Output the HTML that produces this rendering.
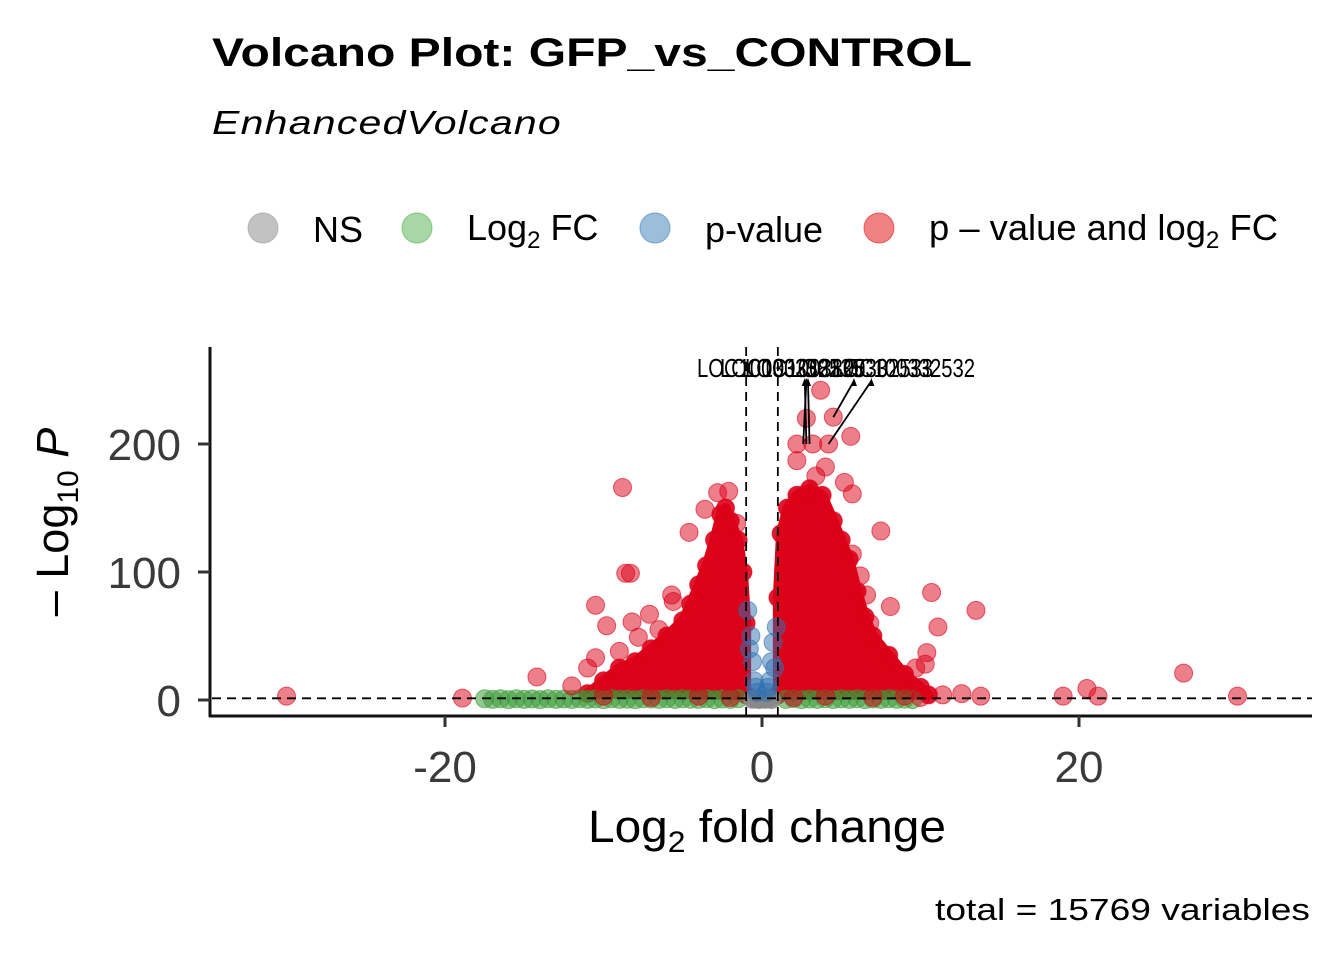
<!DOCTYPE html>
<html><head><meta charset="utf-8"><style>
body{margin:0;background:#fff;}
svg{display:block;font-family:"Liberation Sans",Arial,sans-serif;}
</style></head><body>
<svg id="chart" width="1344" height="960" viewBox="0 0 1344 960" xmlns="http://www.w3.org/2000/svg">
<text x="212" y="66" font-size="40" font-weight="bold" textLength="760" lengthAdjust="spacingAndGlyphs">Volcano Plot: GFP_vs_CONTROL</text>
<text x="212" y="134" font-size="33" font-style="italic" letter-spacing="1" textLength="350" lengthAdjust="spacingAndGlyphs">EnhancedVolcano</text>
<g font-size="36">
 <g><circle cx="263" cy="228" r="15" fill="#999" fill-opacity="0.6" stroke="#999" stroke-opacity="0.6"/><text x="313" y="242">NS</text></g>
 <g><circle cx="417" cy="228" r="15" fill="#4daf4a" fill-opacity="0.5" stroke="#4daf4a" stroke-opacity="0.6"/><text x="467" y="240">Log<tspan font-size="24" dy="8">2</tspan><tspan dy="-8"> FC</tspan></text></g>
 <g><circle cx="655" cy="228" r="15" fill="#377eb8" fill-opacity="0.5" stroke="#377eb8" stroke-opacity="0.6"/><text x="705" y="242">p-value</text></g>
 <g><circle cx="879" cy="228" r="15" fill="#e41a1c" fill-opacity="0.55" stroke="#e41a1c" stroke-opacity="0.6"/><text x="929" y="240" textLength="349" lengthAdjust="spacingAndGlyphs">p – value and log<tspan font-size="24" dy="8">2</tspan><tspan dy="-8"> FC</tspan></text></g>
</g>
<g id="plot"></g>
<g id="axes"></g>
<text x="588" y="842" font-size="45" textLength="358" lengthAdjust="spacingAndGlyphs">Log<tspan font-size="30" dy="10">2</tspan><tspan dy="-10"> fold change</tspan></text>
<text transform="translate(68,522) rotate(-90)" font-size="45" text-anchor="middle">– Log<tspan font-size="30" dy="10">10</tspan><tspan dy="-10" font-style="italic"> P</tspan></text>
<text x="935" y="920" font-size="31" textLength="375" lengthAdjust="spacingAndGlyphs">total = 15769 variables</text>
</svg>
<script>
const xTicks=[-20,0,20];
const yTicks=[0,100,200];
const leftEnvX=[-11,-10,-9,-8,-7,-6,-5,-4.5,-4,-3.5,-3,-2.6,-2.3,-2,-1.5,-1.2,-1.0,-1.0];
const leftEnvY=[5,15,25,30,40,50,62,75,90,105,125,145,150,140,125,100,60,4];
const rightEnvX=[1,1,1.2,1.6,2.2,3,3.8,4.5,5,5.5,6,6.5,7,8,9,10,10.5];
const rightEnvY=[4,80,130,150,160,165,160,140,125,110,85,65,50,35,20,10,4];
const redX=[-30,-18.9,-14.2,-12,-10.5,-10.5,-8.8,-8.3,-8.6,-9.8,-8.2,-7.8,-7.1,-4.6,-5.7,-5.6,-2.8,-2.1,-3.6,-1.6,-11,-9,-6.5,
 3.7,4.5,2.8,2.2,3.2,4.2,5.6,4,5.2,5.7,7.5,5.7,6.2,8.1,10.7,11.1,13.5,6.6,5.9,8,9.7,10.4,10.3,11.4,12.6,13.8,19,20.5,21.2,26.6,30,2.2,3.4,2.6,6.8,7.2,-10,-7,-4,-2,2,4,7,9,10];
const redY=[3,1.5,18,11,74,33,166,99,99,58,61,49,67,131,82,77,162,163,149,138,25,38,55,
 242,221,220,200,200,200,206,182,170,161,132,114,97,73,84,57,70,82,76,30,25,37,28,4,5,3,3,9,3,21,3,187,175,160,60,40,3,2,3,2,2,3,2,3,2];
const greenX=[-17.5,-17,-16.5,-16,-15.5,-15,-14.5,-14,-13.5,-13,-12.5,-12,-11.5,-11,-10.5,-10,-9.5,-9,-8.5,-8,-7.5,-7,-6.5,-6,-5.5,-5,-4.5,-4,-3.5,-3,-2.5,-2,-1.5,1.5,2,2.5,3,3.5,4,4.5,5,5.5,6,6.5,7,7.5,8,8.5,9,9.5];
const greenY=[1,0.5,1,0.3,1,0.5,0.8,0.3,1,0.5,0.8,0.4,1,0.5,0.8,0.3,1,0.5,0.6,0.3,1,0.8,0.5,1,0.4,1,0.6,0.5,1,0.3,0.8,0.5,1,0.5,1,0.3,0.8,0.5,1,0.4,0.9,0.5,1,0.3,0.8,0.5,1,0.5,0.7,0.3];
const blueX=[-0.9,-0.8,-0.7,-0.6,-0.5,-0.4,-0.3,0.3,0.4,0.5,0.6,0.7,0.9,0.8];
const blueY=[70,40,50,30,15,10,6,6,10,15,30,45,57,25];
const greyX=[-0.6,-0.2,0.2,0.6,-0.4,0.4,0];
const greyY=[0.5,0.3,0.5,0.3,1.2,1.2,0.8];
const labelText=["LOC100332582","LOC100332535","LOC100332530","LOC100332533","LOC100332532"];
const labelStartX=[697,720,745,790,832];
const labelPointX=[2.8,2.6,3.0,4.5,4.2];
const labelPointY=[200,200,200,221,200];
const labelArrowX=[2.7,2.8,2.9,5.8,6.9];

const X=v=>762+v*15.85, Y=v=>700-v*1.28;
const NS='http://www.w3.org/2000/svg';
const plot=document.getElementById('plot'), axes=document.getElementById('axes');
function mk(t,a,p){const e=document.createElementNS(NS,t);for(const k in a)e.setAttribute(k,a[k]);(p||plot).appendChild(e);return e;}
function dot(x,y,c,o,name){const e=mk('circle',{cx:X(x),cy:Y(y),r:9,fill:c,'fill-opacity':o,stroke:c,'stroke-opacity':0.6});

}
function env(xs,ys,name){
 const pts=xs.map((v,i)=>X(v)+','+Y(ys[i])).join(' ');
 const p=mk('polygon',{points:pts,fill:'#dc0018',stroke:'#dc0018','stroke-width':10,'stroke-linejoin':'round'});
 
 
 xs.forEach((v,i)=>dot(v,ys[i],'#dc0018',0.9,'point-sig'));
}
env(leftEnvX,leftEnvY,'dense-down-regulated');
env(rightEnvX,rightEnvY,'dense-up-regulated');
greenX.forEach((v,i)=>dot(v,greenY[i],'#3a9a37',0.55,'point-log2fc'));
greyX.forEach((v,i)=>dot(v,greyY[i],'#888',0.9,'point-ns'));
blueX.forEach((v,i)=>dot(v,blueY[i],'#2f6fb0',0.5,'point-pvalue'));
redX.forEach((v,i)=>dot(v,redY[i],'#dc0018',0.5,'point-sig'));
[-1,1].forEach(v=>{const l=mk('line',{x1:X(v),x2:X(v),y1:347,y2:716,stroke:'#000','stroke-width':1.8,'stroke-dasharray':'9,6'});

});
const hl=mk('line',{x1:212,x2:1312,y1:Y(1.3),y2:Y(1.3),stroke:'#000','stroke-width':1.8,'stroke-dasharray':'9,6'});


labelText.forEach((t,i)=>{
 const a=mk('line',{x1:X(labelPointX[i]),y1:Y(labelPointY[i]),x2:X(labelArrowX[i]),y2:381,stroke:'#000','stroke-width':1.8});
 
 
 const h=mk('polygon',{points:`${X(labelArrowX[i])},378 ${X(labelArrowX[i])-3},386 ${X(labelArrowX[i])+3},386`,fill:'#000'});
 
 
 const tx=mk('text',{x:labelStartX[i],y:377,'font-size':26,textLength:143,lengthAdjust:'spacingAndGlyphs'});
 tx.textContent=t;
 
 
});
mk('line',{x1:210,x2:210,y1:347,y2:717,stroke:'#111','stroke-width':3},axes);
mk('line',{x1:209,x2:1312,y1:716,y2:716,stroke:'#111','stroke-width':3},axes);
xTicks.forEach(v=>{mk('line',{x1:X(v),x2:X(v),y1:716,y2:727,stroke:'#333','stroke-width':3},axes);
 const t=mk('text',{x:X(v),y:782,'font-size':44,fill:'#3a3a3a','text-anchor':'middle'},axes);t.textContent=v;
 
 });
yTicks.forEach(v=>{mk('line',{x1:198,x2:210,y1:Y(v),y2:Y(v),stroke:'#333','stroke-width':3},axes);
 const t=mk('text',{x:181,y:Y(v)+16,'font-size':44,fill:'#3a3a3a','text-anchor':'end'},axes);t.textContent=v;
 
 });
</script>
</body></html>
